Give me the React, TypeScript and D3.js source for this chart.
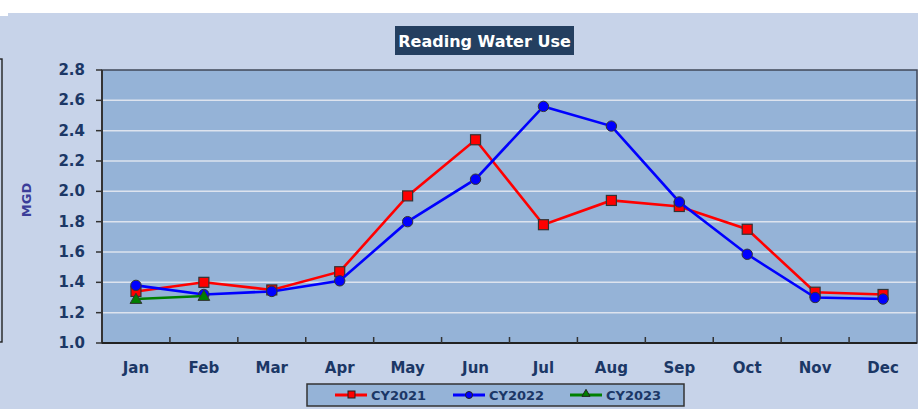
import React from "react";
import * as d3 from "d3";

const months = ["Jan", "Feb", "Mar", "Apr", "May", "Jun", "Jul", "Aug", "Sep", "Oct", "Nov", "Dec"];
const cy2021 = [1.34, 1.40, 1.35, 1.47, 1.97, 2.34, 1.78, 1.94, 1.90, 1.75, 1.335, 1.32];
const cy2022 = [1.38, 1.32, 1.34, 1.41, 1.80, 2.08, 2.56, 2.43, 1.93, 1.585, 1.30, 1.29];
const cy2023 = [1.29, 1.31];
const yTicks = [1.0, 1.2, 1.4, 1.6, 1.8, 2.0, 2.2, 2.4, 2.6, 2.8];
const seriesNames = ["CY2021", "CY2022", "CY2023"];

const W = 918, H = 409;
const plot = { left: 102, top: 70, right: 917, bottom: 343 };
const FONT = "'DejaVu Sans', Verdana, sans-serif";
const NAVY = "#1b3766";

export default function App() {
  const x = d3.scaleBand<string>().domain(months).range([plot.left, plot.right]);
  const y = d3.scaleLinear().domain([1.0, 2.8]).range([plot.bottom, plot.top]);
  const cx = (m: string) => (x(m) as number) + x.bandwidth() / 2;
  const line = d3.line<number>().x((_, i) => cx(months[i])).y((d) => y(d));
  const tri = d3.symbol().type(d3.symbolTriangle).size(60);

  const square = (px: number, py: number, key: string) => (
    <rect key={key} x={px - 5} y={py - 5} width={10} height={10} fill="#ff0000" stroke="#333" strokeWidth={1.2} />
  );
  const circle = (px: number, py: number, key: string) => (
    <circle key={key} cx={px} cy={py} r={5.2} fill="#0000ff" stroke="#333" strokeWidth={1} />
  );
  const triangle = (px: number, py: number, key: string) => (
    <path key={key} d={tri() as string} transform={`translate(${px},${py + 1})`} fill="#008000" stroke="#333" strokeWidth={1} />
  );

  const series = [
    { name: seriesNames[0], data: cy2021, color: "#ff0000", marker: square },
    { name: seriesNames[1], data: cy2022, color: "#0000ff", marker: circle },
    { name: seriesNames[2], data: cy2023, color: "#008000", marker: triangle },
  ];
  const legendX = [335, 453, 570];

  return (
    <svg width={W} height={H} style={{ position: "absolute", left: 0, top: 0 }} fontFamily={FONT}>
      <rect x={0} y={0} width={W} height={H} fill="#ffffff" />
      <rect x={0} y={13} width={W} height={H - 13} fill="#c7d3e9" />
      <rect x={0} y={13} width={8} height={3} fill="#ffffff" />
      <rect x={-10} y={59} width={12} height={283} fill="none" stroke="#222" strokeWidth={1.4} />

      <rect x={395} y={26} width={179} height={29} fill="#243f60" />
      <text x={484.5} y={47} textAnchor="middle" fill="#ffffff" fontWeight="bold" fontSize={16}>Reading Water Use</text>

      <rect x={plot.left} y={plot.top} width={plot.right - plot.left} height={plot.bottom - plot.top} fill="#95b3d7" />
      {yTicks.slice(1, -1).map((t) => (
        <line key={t} x1={plot.left} x2={plot.right} y1={y(t)} y2={y(t)} stroke="#dde3ee" strokeWidth={1.5} />
      ))}
      <rect x={plot.left} y={plot.top} width={plot.right - plot.left} height={plot.bottom - plot.top} fill="none" stroke="#404858" strokeWidth={1.5} />
      <line x1={plot.left} x2={plot.left} y1={plot.top} y2={plot.bottom} stroke="#333" strokeWidth={2} />
      <line x1={plot.left} x2={plot.right} y1={plot.bottom} y2={plot.bottom} stroke="#222" strokeWidth={2} />

      {yTicks.map((t) => (
        <g key={t}>
          <line x1={plot.left - 6} x2={plot.left} y1={y(t)} y2={y(t)} stroke="#333" strokeWidth={1.5} />
          <text x={85} y={y(t) + 5} textAnchor="end" fill={NAVY} fontWeight="bold" fontSize={15}>{t.toFixed(1)}</text>
        </g>
      ))}
      {months.slice(1).map((m) => (
        <line key={m} x1={x(m) as number} x2={x(m) as number} y1={plot.bottom - 6} y2={plot.bottom} stroke="#333" strokeWidth={1.5} />
      ))}
      {months.map((m) => (
        <text key={m} x={cx(m)} y={373} textAnchor="middle" fill={NAVY} fontWeight="bold" fontSize={15}>{m}</text>
      ))}
      <text transform="translate(31,200) rotate(-90)" textAnchor="middle" fill="#3b3d99" fontWeight="bold" fontSize={13}>MGD</text>

      {series.map((s) => (
        <g key={s.name}>
          <path d={line(s.data) as string} fill="none" stroke={s.color} strokeWidth={2.6} />
          {s.data.map((v, i) => s.marker(cx(months[i]), y(v), s.name + i))}
        </g>
      ))}

      <rect x={307} y={384} width={377} height={22} fill="#95b3d7" stroke="#333" strokeWidth={1.5} />
      {series.map((s, i) => (
        <g key={s.name}>
          <line x1={legendX[i]} x2={legendX[i] + 32} y1={395} y2={395} stroke={s.color} strokeWidth={3} />
          {i === 0 && <rect x={legendX[i] + 13} y={391} width={7} height={7} fill="#ff0000" stroke="#222" strokeWidth={1} />}
          {i === 1 && <circle cx={legendX[i] + 16} cy={395} r={3.5} fill="#0000ff" stroke="#222" strokeWidth={1} />}
          {i === 2 && <path d={d3.symbol().type(d3.symbolTriangle).size(28)() as string} transform={`translate(${legendX[i] + 16},394)`} fill="#008000" stroke="#222" strokeWidth={1} />}
          <text x={legendX[i] + 36} y={400} fill={NAVY} fontWeight="bold" fontSize={13}>{s.name}</text>
        </g>
      ))}
    </svg>
  );
}
